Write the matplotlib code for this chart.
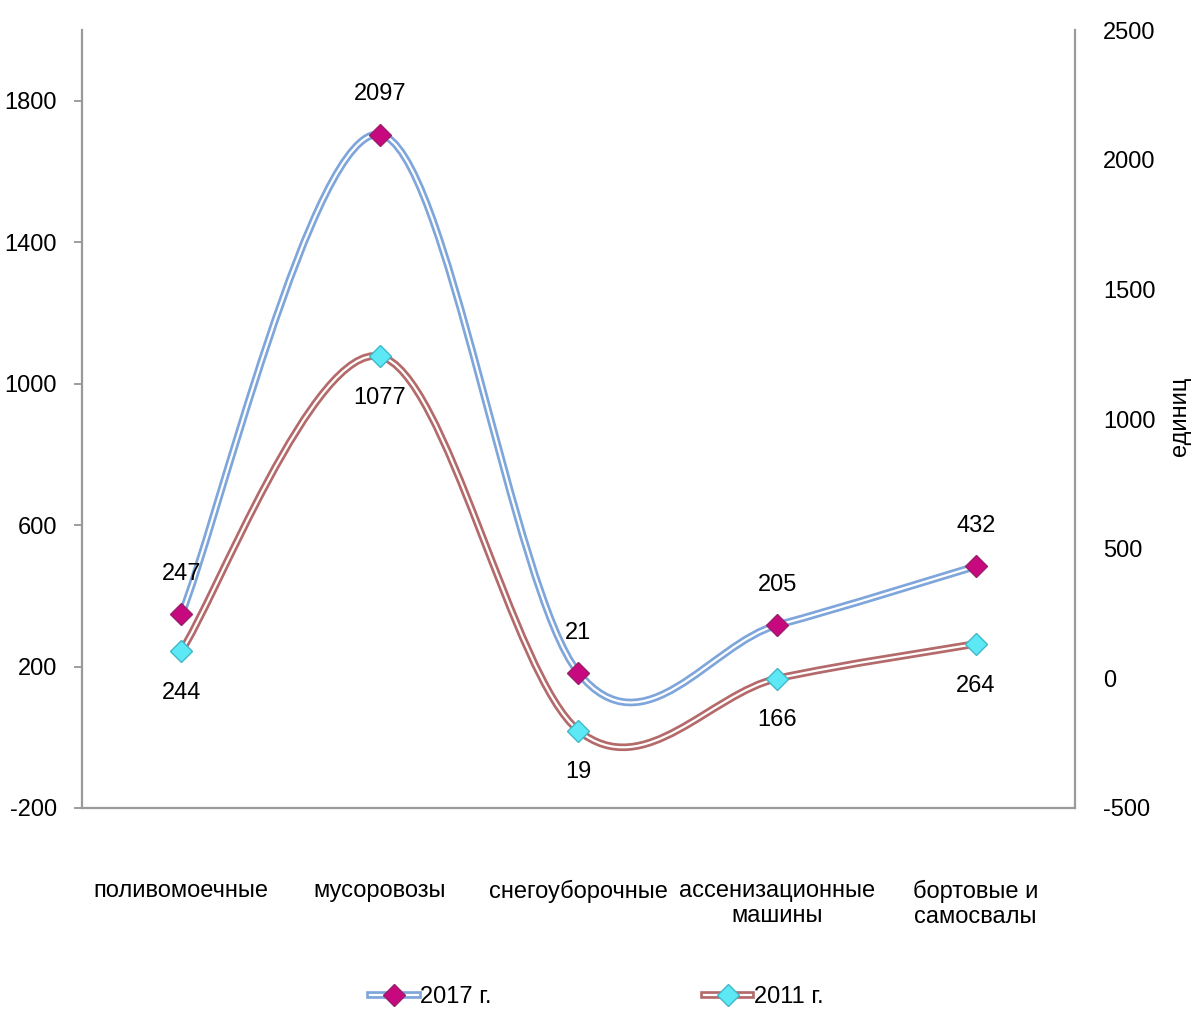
import matplotlib
matplotlib.use("Agg")
import matplotlib.pyplot as plt
from matplotlib.path import Path
from matplotlib.patches import PathPatch
from matplotlib.lines import Line2D
from matplotlib.legend_handler import HandlerTuple
from matplotlib import font_manager

names = {f.name for f in font_manager.fontManager.ttflist}
fam = ['Liberation Sans Narrow'] if 'Liberation Sans Narrow' in names else ['Liberation Sans']
plt.rcParams['font.family'] = fam + ['DejaVu Sans']
plt.rcParams['axes.unicode_minus'] = False

categories = ["поливомоечные", "мусоровозы", "снегоуборочные",
              "ассенизационные\nмашины", "бортовые и\nсамосвалы"]
values_2017 = [247, 2097, 21, 205, 432]
values_2011 = [244, 1077, 19, 166, 264]
left_ticks = [-200, 200, 600, 1000, 1400, 1800]
right_ticks = [-500, 0, 500, 1000, 1500, 2000, 2500]

FS = 17
BLUE = "#7FA6DB"
RED = "#B46A6A"
MAG = "#C8087E"
CYAN = "#5DE8F5"

fig = plt.figure(figsize=(11.96, 10.10), dpi=100)
ax = fig.add_axes([82/1196, 1-808/1010, (1075-82)/1196, (808-30)/1010])
ax2 = ax.twinx()

x = list(range(len(categories)))


def smooth_path(xs, ys):
    pts = list(zip(xs, ys))
    n = len(pts)
    verts = [pts[0]]
    codes = [Path.MOVETO]
    for i in range(n - 1):
        p0 = pts[i - 1] if i > 0 else pts[i]
        p1 = pts[i]
        p2 = pts[i + 1]
        p3 = pts[i + 2] if i + 2 < n else pts[i + 1]
        c1 = (p1[0] + (p2[0] - p0[0]) / 6, p1[1] + (p2[1] - p0[1]) / 6)
        c2 = (p2[0] - (p3[0] - p1[0]) / 6, p2[1] - (p3[1] - p1[1]) / 6)
        verts += [c1, c2, p2]
        codes += [Path.CURVE4] * 3
    return Path(verts, codes)


def draw_double(a, xs, ys, color, z):
    p = smooth_path(xs, ys)
    a.add_patch(PathPatch(p, fill=False, edgecolor=color, lw=5.5, zorder=z,
                          capstyle='butt', joinstyle='round'))
    a.add_patch(PathPatch(p, fill=False, edgecolor='white', lw=1.6, zorder=z + 0.1,
                          capstyle='butt', joinstyle='round'))


# 2011 on left axis
draw_double(ax, x, values_2011, RED, 2)
ax.plot(x, values_2011, ls='none', marker='D', ms=11, mfc=CYAN, mec="#3FB8C8",
        mew=1, zorder=4)
for xi, v in zip(x, values_2011):
    ax.annotate(str(v), (xi, v), xytext=(0, -30), textcoords='offset points',
                ha='center', va='center', fontsize=FS)

# 2017 on right axis
draw_double(ax2, x, values_2017, BLUE, 2)
ax2.plot(x, values_2017, ls='none', marker='D', ms=11, mfc=MAG, mec="#9A1F6A",
         mew=1, zorder=4)
for xi, v in zip(x, values_2017):
    ax2.annotate(str(v), (xi, v), xytext=(0, 29), textcoords='offset points',
                 ha='center', va='center', fontsize=FS)

ax.set_xlim(-0.5, len(categories) - 0.5)
ax.set_ylim(-200, 2000)
ax2.set_ylim(-500, 2500)
ax.set_yticks(left_ticks)
ax2.set_yticks(right_ticks)
ax.set_xticks(x)
ax.set_xticklabels(categories, fontsize=FS, va='top', linespacing=1.15)
ax.tick_params(axis='x', length=0, pad=52)
ax.tick_params(axis='y', length=6, width=1.2, color='#8C8C8C', labelsize=FS, pad=12)
ax2.tick_params(axis='y', length=0, labelsize=FS, pad=20)

for a in (ax, ax2):
    a.spines['top'].set_visible(False)
    for s in ('left', 'right', 'bottom'):
        a.spines[s].set_color('#9A9A9A')
        a.spines[s].set_linewidth(1.6)
ax.spines['right'].set_visible(False)
ax2.spines['left'].set_visible(False)
ax2.spines['bottom'].set_visible(False)

fig.text(1180/1196, 1-416/1010, "единиц", rotation=90, fontsize=FS,
         ha='center', va='center')

# legend
def handle(color, mfc, mec):
    outer = Line2D([], [], color=color, lw=5.5)
    inner = Line2D([], [], color='white', lw=1.6)
    mk = Line2D([], [], ls='none', marker='D', ms=11, mfc=mfc, mec=mec, mew=1)
    return (outer, inner, mk)

fig.legend([handle(BLUE, MAG, "#9A1F6A"), handle(RED, CYAN, "#3FB8C8")],
           ["2017 г.", "2011 г."],
           handler_map={tuple: HandlerTuple(ndivide=1, pad=0)},
           loc='center', bbox_to_anchor=(0.499, 0.013), ncol=2, frameon=False,
           fontsize=FS, handlelength=2.0, handletextpad=0.1, columnspacing=9.0)

fig.savefig("out.png", dpi=100)
